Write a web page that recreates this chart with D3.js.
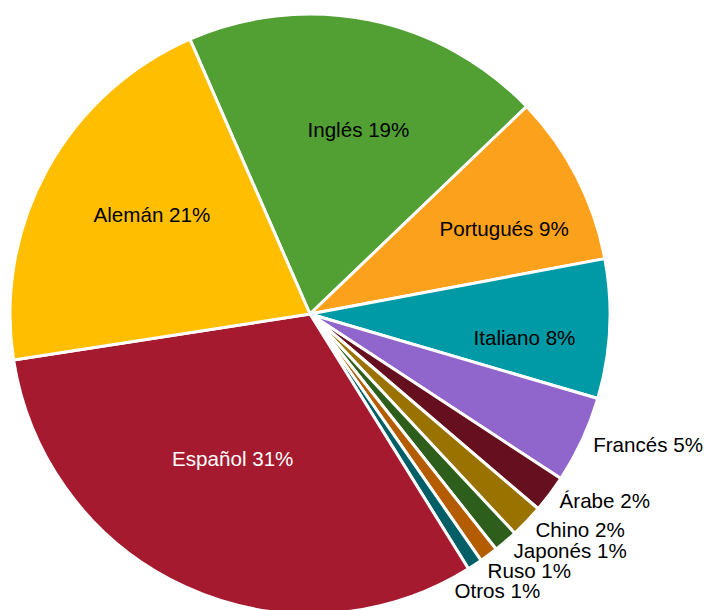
<!DOCTYPE html>
<html>
  <head>
    <meta charset="utf-8">
    <script src="https://cdn.jsdelivr.net/npm/d3@7"></script>
    <style type="text/css">
      body { margin: 0; background: #fff; }
      .lbl { font-family: "Liberation Sans", Arial, sans-serif; font-size: 20.6px; }
    </style>
  </head>
  <body>
    <div class="plot_canvas"></div>
    <script>

    // languages, share in percent
    var languages = ["Inglés", "Portugués", "Italiano", "Francés", "Árabe", "Chino",
                     "Japonés", "Ruso", "Otros", "Español", "Alemán"];
    var shares = [19.4, 9.2, 7.5, 4.7, 2.0, 1.8, 1.3, 1.0, 0.8, 31.4, 20.9];
    var colors = ["#52a034", "#fca11c", "#009aa6", "#9166cc", "#660f1e", "#997200",
                  "#2e5e1b", "#b35c00", "#005e66", "#a51a2e", "#ffbf00"];
    var textColors = ["#000", "#000", "#000", "#000", "#000", "#000",
                      "#000", "#000", "#000", "#fff", "#000"];

    var W = 716, H = 610;
    var cx = 310, cy = 314, R = 300;
    var startDeg = -23.6;

    var data = languages.map(function(d, i) {
      return {name: d, value: shares[i], color: colors[i], tc: textColors[i]};
    });

    var svg = d3.select(".plot_canvas")
      .append("svg")
      .attr("width", W)
      .attr("height", H);

    var g = svg.append("g").attr("transform", "translate(" + cx + "," + cy + ")");

    var pie = d3.pie()
      .sort(null)
      .value(function(d) { return d.value; })
      .startAngle(startDeg * Math.PI / 180)
      .endAngle((startDeg + 360) * Math.PI / 180);

    var arc = d3.arc().innerRadius(0).outerRadius(R);
    var arcs = pie(data);

    g.selectAll("path.slice")
      .data(arcs).enter()
      .append("path")
      .attr("class", "slice")
      .attr("d", arc)
      .attr("fill", function(d) { return d.data.color; })
      .attr("stroke", "#fff")
      .attr("stroke-width", 3)
      .attr("stroke-linejoin", "round");

    function labelText(d) {
      return d.data.name + " " + Math.round(d.data.value) + "%";
    }
    function mid(d) { return (d.startAngle + d.endAngle) / 2; }
    function spanDeg(d) { return (d.endAngle - d.startAngle) * 180 / Math.PI; }

    // big slices get the label inside, small ones outside
    var inside = arcs.filter(function(d) { return spanDeg(d) > 20; });
    var outside = arcs.filter(function(d) { return spanDeg(d) <= 20; });

    g.selectAll("text.in")
      .data(inside).enter()
      .append("text")
      .attr("class", "lbl in")
      .attr("text-anchor", "middle")
      .attr("dy", "0.35em")
      .attr("fill", function(d) { return d.data.tc; })
      .attr("x", function(d) { return (232 - 0.6 * spanDeg(d)) * Math.sin(mid(d) + 0.06); })
      .attr("y", function(d) { return -(232 - 0.6 * spanDeg(d)) * Math.cos(mid(d) + 0.06); })
      .text(labelText);

    // outside labels, pushed down along the circle if they collide
    var rOut = 312, gap = 20, prevY = -Infinity;
    var outPos = outside.map(function(d) {
      var a = mid(d);
      var x = rOut * Math.sin(a), y = -rOut * Math.cos(a);
      if (y < prevY + gap) {
        y = prevY + gap;
        x = Math.sqrt(Math.max(0, rOut * rOut - y * y));
      }
      prevY = y;
      return {d: d, x: x, y: y};
    });

    g.selectAll("text.out")
      .data(outPos).enter()
      .append("text")
      .attr("class", "lbl out")
      .attr("text-anchor", "start")
      .attr("dy", "0.35em")
      .attr("fill", "#000")
      .attr("x", function(p) { return p.x; })
      .attr("y", function(p) { return p.y; })
      .text(function(p) { return labelText(p.d); });

    </script>
  </body>
</html>
